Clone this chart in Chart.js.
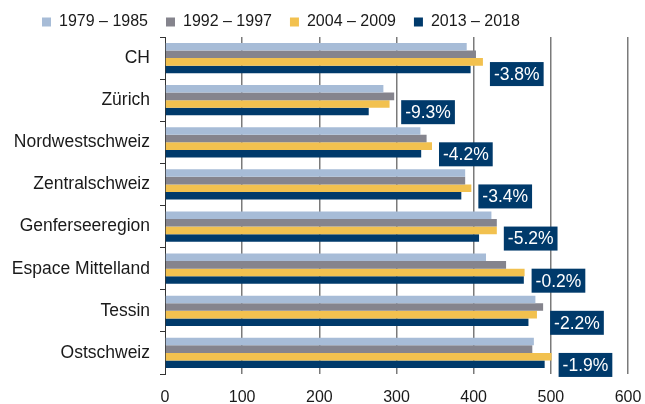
<!DOCTYPE html>
<html>
<head>
<meta charset="utf-8">
<script src="https://cdn.jsdelivr.net/npm/chart.js@4/dist/chart.umd.min.js"></script>
<style>
  html, body { margin: 0; padding: 0; background: #fff; }
  #wrap { width: 645px; height: 404px; position: relative; }
</style>
</head>
<body>
<div id="wrap"><canvas id="c" width="645" height="404"></canvas></div>
<script>
const categories = ['CH', 'Zürich', 'Nordwestschweiz', 'Zentralschweiz', 'Genferseeregion', 'Espace Mittelland', 'Tessin', 'Ostschweiz'];
const seriesLabels = ['1979 – 1985', '1992 – 1997', '2004 – 2009', '2013 – 2018'];
const values1979 = [391, 283, 331, 389, 423, 416, 480, 478];
const values1992 = [403, 297, 339, 389, 430, 442, 490, 476];
const values2004 = [412, 291, 346, 397, 430, 466, 482, 501];
const values2013 = [396, 264, 332, 384, 407, 465, 471, 492];
const changeLabels = ['-3.8%', '-9.3%', '-4.2%', '-3.4%', '-5.2%', '-0.2%', '-2.2%', '-1.9%'];
const xTicks = [0, 100, 200, 300, 400, 500, 600];

const colors = ['#A7BCD7', '#85848D', '#F2C14F', '#003A6B'];
const FONT = "'Liberation Sans', Arial, Helvetica, sans-serif";
const TEXT = '#1a1a1a';

const seriesValues = [values1979, values1992, values2004, values2013];

const LEG_PAD = 18;
const LEG_FONT = 16;

const layoutPlugin = {
  id: 'layoutTweak',
  beforeInit(chart) {
    const lg = chart.legend;
    if (lg) {
      const origFit = lg.fit.bind(lg);
      lg.fit = function () { origFit(); this.height = 37; };
    }
  },
  afterLayout(chart) {
    const lg = chart.legend;
    if (lg) {
      lg.left = 42 - LEG_PAD;
      lg.top = 22 - LEG_PAD - LEG_FONT / 2;
    }
  }
};

const changePlugin = {
  id: 'changeBoxes',
  afterDatasetsDraw(chart) {
    const ctx = chart.ctx;
    const xs = chart.scales.x, ys = chart.scales.y;
    ctx.save();
    ctx.font = '17.5px ' + FONT;
    ctx.textBaseline = 'middle';
    ctx.textAlign = 'center';
    categories.forEach((cat, i) => {
      const maxV = Math.max(...seriesValues.map(s => s[i]));
      const x0 = xs.getPixelForValue(maxV) + 7;
      const yc = ys.getPixelForValue(i) + (i === 0 ? 16 : 12);
      const tw = ctx.measureText(changeLabels[i]).width;
      const w = tw + 8, h = 24;
      ctx.fillStyle = '#003A6B';
      ctx.fillRect(x0, yc - h / 2, w, h);
      ctx.fillStyle = '#ffffff';
      ctx.fillText(changeLabels[i], x0 + w / 2, yc + 1);
    });
    ctx.restore();
  }
};

new Chart(document.getElementById('c'), {
  type: 'bar',
  data: {
    labels: categories,
    datasets: seriesValues.map((vals, k) => ({
      label: seriesLabels[k],
      data: vals,
      backgroundColor: colors[k],
      borderWidth: 0,
      categoryPercentage: 0.72,
      barPercentage: 1.0
    }))
  },
  options: {
    indexAxis: 'y',
    responsive: false,
    animation: false,
    devicePixelRatio: 1,
    layout: { padding: { left: 0, right: 17, top: 0, bottom: 0 } },
    plugins: {
      legend: {
        position: 'top',
        align: 'start',
        labels: {
          boxWidth: 9,
          boxHeight: 9,
          padding: LEG_PAD,
          color: TEXT,
          font: { family: FONT, size: LEG_FONT }
        }
      },
      tooltip: { enabled: false }
    },
    scales: {
      x: {
        min: 0,
        max: 600,
        afterBuildTicks(scale) { scale.ticks = xTicks.map(v => ({ value: v })); },
        afterFit(scale) { scale.height = 30; scale.paddingLeft = 0; scale.paddingRight = 0; },
        border: { display: false },
        grid: {
          color: ctx => ctx.tick && ctx.tick.value === 0 ? 'rgba(0,0,0,0)' : '#7a7a7a',
          lineWidth: 1.5,
          drawTicks: false
        },
        ticks: {
          color: TEXT,
          padding: 14,
          maxRotation: 0,
          font: { family: FONT, size: 16 }
        }
      },
      y: {
        afterFit(scale) { scale.width = 165; },
        border: { display: true, color: '#333333', width: 1 },
        grid: {
          offset: true,
          drawOnChartArea: false,
          drawTicks: true,
          tickLength: 5,
          color: '#333333',
          lineWidth: 1
        },
        ticks: {
          color: TEXT,
          padding: 10,
          font: { family: FONT, size: 17.5 }
        }
      }
    }
  },
  plugins: [layoutPlugin, changePlugin]
});
</script>
</body>
</html>
